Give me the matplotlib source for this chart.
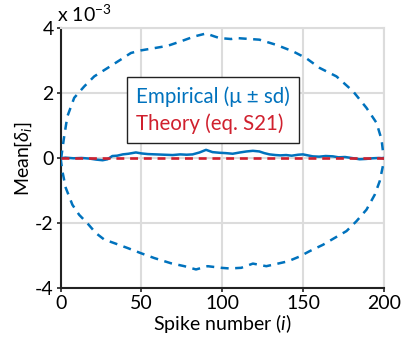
import matplotlib
matplotlib.use("Agg")
import matplotlib.pyplot as plt

# ---- data (values in units of 1e-3) ----
upper_i = [0, 0.5, 2.2, 4.2, 8.4, 14.6, 20.8, 28.8, 37.3, 43.5, 49.7, 58, 66.2, 74.5, 82.8, 90,
           95.2, 98.3, 105.5, 108.7, 123, 133.5, 143.8, 152, 160.3, 170.7, 181, 189.3, 195.5,
           198.6, 200]
upper_v = [0, 0.06, 0.67, 1.29, 1.86, 2.21, 2.52, 2.77, 3.04, 3.24, 3.32, 3.39, 3.46, 3.60, 3.75,
           3.84, 3.75, 3.70, 3.67, 3.70, 3.65, 3.49, 3.29, 3.08, 2.78, 2.52, 2.06, 1.55, 1.09,
           0.58, 0]

lower_i = [0, 1.1, 3.2, 7.3, 11.5, 16.6, 21.8, 27, 33.2, 41.4, 49.7, 58, 68.3, 76.6, 83.8, 91,
           99.4, 104.5, 111.8, 119, 127.3, 134.5, 140.7, 148, 154, 162.4, 169.6, 176.9, 183,
           189.3, 194.4, 197.5, 199.6, 200]
lower_v = [0, -0.40, -0.91, -1.43, -1.74, -2.00, -2.30, -2.50, -2.61, -2.76, -2.92, -3.07, -3.23,
           -3.32, -3.42, -3.32, -3.37, -3.39, -3.37, -3.24, -3.32, -3.24, -3.17, -3.02, -2.86,
           -2.66, -2.45, -2.24, -1.94, -1.58, -1.12, -0.70, -0.20, 0]

mean_i = [0, 3, 8, 13, 18, 22, 26, 29, 32, 35, 38.4, 42, 46.6, 50, 54, 59, 64, 69.3, 74, 78,
          81.7, 86, 90, 94, 98.3, 102, 106.5, 111, 115, 119, 123, 126, 129.3, 133, 136,
          139.6, 143, 147, 150, 153, 156, 160, 164, 168.5, 172, 176, 180, 185, 189, 193,
          197, 200]
mean_v = [0, 0.02, 0.0, 0.01, -0.01, -0.04, -0.06, -0.03, 0.07, 0.08, 0.12, 0.14, 0.18, 0.15,
          0.13, 0.12, 0.11, 0.10, 0.12, 0.11, 0.12, 0.18, 0.26, 0.19, 0.17, 0.16, 0.14, 0.18,
          0.21, 0.23, 0.21, 0.16, 0.12, 0.10, 0.09, 0.10, 0.08, 0.11, 0.12, 0.09, 0.06, 0.05,
          0.07, 0.06, 0.03, 0.04, 0.01, -0.03, -0.02, 0.0, 0.01, 0.0]

theory_i = [0, 200]
theory_v = [0, 0]

xticks = [0, 50, 100, 150, 200]
yticks = [-4, -2, 0, 2, 4]

blue = '#0072BD'
red = '#D0202E'
gridc = '#DCDCDC'

plt.rcParams['font.family'] = ['Lato', 'DejaVu Sans']
plt.rcParams['mathtext.fontset'] = 'custom'
plt.rcParams['mathtext.rm'] = 'Lato'
plt.rcParams['mathtext.it'] = 'Lato:italic'
plt.rcParams['axes.unicode_minus'] = False

fig = plt.figure(figsize=(4.04, 3.43), dpi=100)
ax = fig.add_axes([0.150, 0.1595, 0.800, 0.758])

ax.set_xlim(0, 200)
ax.set_ylim(-4, 4)
ax.set_xticks(xticks)
ax.set_yticks(yticks)
ax.grid(True, color=gridc, linewidth=1.5)
ax.set_axisbelow(True)

ax.plot(upper_i, upper_v, color=blue, lw=1.8, dashes=(3.2, 2.6), zorder=3)
ax.plot(lower_i, lower_v, color=blue, lw=1.8, dashes=(3.2, 2.6), zorder=3)
ax.plot(mean_i, mean_v, color=blue, lw=1.8, zorder=3, label='Empirical (μ ± sd)')
ax.plot(theory_i, theory_v, color=red, lw=1.9, dashes=(3.0, 2.2), zorder=4,
        label='Theory (eq. S21)')

for s in ['left', 'bottom']:
    ax.spines[s].set_color('#222222')
    ax.spines[s].set_linewidth(1.5)
for s in ['top', 'right']:
    ax.spines[s].set_color(gridc)
    ax.spines[s].set_linewidth(1.5)

ax.tick_params(axis='both', labelsize=14, length=3, width=1.2, color='#222222', pad=2)

ax.set_xlabel('Spike number ($\\it{i}$)', fontsize=14, labelpad=0)
ax.set_ylabel('Mean[$\\delta_i$]', fontsize=14, labelpad=1)
ax.text(-0.01, 1.015, 'x 10$^{-3}$', transform=ax.transAxes, fontsize=14,
        ha='left', va='bottom')

leg = ax.legend(loc='upper left', bbox_to_anchor=(0.205, 0.8115), borderaxespad=0,
                handlelength=0, handletextpad=0, fontsize=14.8, frameon=True, fancybox=False,
                edgecolor='#222222', framealpha=1, borderpad=0.45, labelspacing=0.3)
leg.get_frame().set_linewidth(1.0)
for h in leg.legend_handles:
    h.set_visible(False)
for t, c in zip(leg.get_texts(), [blue, red]):
    t.set_color(c)

fig.savefig('out.png', dpi=100)
